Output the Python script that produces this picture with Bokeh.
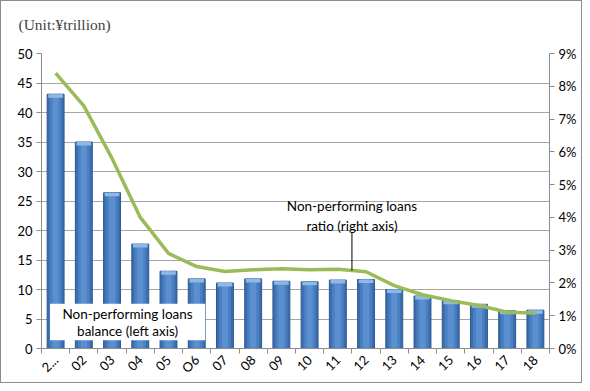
import math
from bokeh.plotting import figure
from bokeh.models import Range1d, LinearAxis, FixedTicker, PrintfTickFormatter, ColumnDataSource
from bokeh.core.properties import value
from bokeh.embed import file_html
from bokeh.resources import INLINE

# ---- data ----
years = ["2...", "02", "03", "04", "05", "O6", "07", "08", "09", "10", "11", "12",
         "13", "14", "15", "16", "17", "18"]
npl_balance = [43.1, 35.0, 26.4, 17.7, 13.1, 11.8, 11.1, 11.8, 11.4, 11.3, 11.6, 11.7,
               10.0, 8.9, 8.1, 7.5, 6.4, 6.5]          # ¥ trillion, left axis
npl_ratio = [8.4, 7.4, 5.8, 4.0, 2.9, 2.5, 2.35, 2.4, 2.43, 2.4, 2.42, 2.34,
             1.92, 1.64, 1.46, 1.31, 1.11, 1.08]         # %, right axis
left_ticks = [0, 5, 10, 15, 20, 25, 30, 35, 40, 45, 50]
right_ticks = [0, 1, 2, 3, 4, 5, 6, 7, 8, 9]
title_text = "(Unit:¥trillion)"
label_balance = ["Non-performing loans", "balance (left axis)"]
label_ratio = ["Non-performing loans", "ratio (right axis)"]

xs = list(range(1, len(years) + 1))
src = ColumnDataSource(dict(
    x=xs, bal=npl_balance, ratio=npl_ratio,
    cap=[v - 0.6 for v in npl_balance],
))

FONT = "Lato"

p = figure(width=582, height=383, output_backend="svg", toolbar_location=None,
           x_range=Range1d(0.5, len(years) + 0.5), y_range=Range1d(0, 50),
           min_border_left=40, min_border_right=34, min_border_top=52, min_border_bottom=33)
p.extra_y_ranges = {"pct": Range1d(0, 9)}
p.outline_line_color = None
p.background_fill_color = "white"
p.border_fill_color = "white"
p.styles = {"border": "1px solid #8c8c8c"}

p.title.text = title_text
p.title.text_font = "Liberation Serif"
p.title.text_font_size = "15.5px"
p.title.text_font_style = "normal"
p.title.align = "left"
p.title.offset = -23
try:
    p.title.padding = dict(left=0, right=0, top=0, bottom=16)
except Exception:
    pass

# axes
p.xaxis.ticker = FixedTicker(ticks=xs, minor_ticks=[x - 0.5 for x in xs] + [len(xs) + 0.5])
p.xaxis.major_label_overrides = {x: y for x, y in zip(xs, years)}
p.xaxis.major_label_orientation = math.pi / 4
p.xaxis.major_tick_out = 0
p.xaxis.major_tick_in = 0
p.xaxis.minor_tick_out = 5
p.xaxis.minor_tick_in = 0
p.xaxis.minor_tick_line_color = "#8c8c8c"

p.yaxis.ticker = FixedTicker(ticks=left_ticks)
p.yaxis.major_tick_out = 5
p.yaxis.major_tick_in = 0
p.yaxis.minor_tick_line_color = None

right = LinearAxis(y_range_name="pct", ticker=FixedTicker(ticks=right_ticks),
                   formatter=PrintfTickFormatter(format="%d%%"))
right.major_tick_out = 5
right.major_tick_in = 0
right.minor_tick_line_color = None
p.add_layout(right, "right")

for ax in [p.xaxis[0], p.yaxis[0], right]:
    ax.axis_line_color = "#8c8c8c"
    ax.major_tick_line_color = "#8c8c8c" if ax is not p.xaxis[0] else None
    ax.major_label_text_font = FONT
    ax.major_label_text_font_size = "13px"
    ax.major_label_text_color = "#000000"
    ax.major_label_standoff = 4

p.xgrid.grid_line_color = None
p.ygrid.ticker = FixedTicker(ticks=left_ticks)
p.ygrid.grid_line_color = "#a6a6a6"
p.ygrid.grid_line_width = 1

# bars (simulated cylinder shading)
p.vbar(x="x", top="bal", width=0.6, source=src, fill_color="#3b6cad", line_color="#2d5a93", line_width=1)
p.vbar(x="x", top="bal", width=0.42, source=src, fill_color="#4a7fc1", line_color=None)
p.vbar(x="x", top="bal", width=0.22, source=src, fill_color="#5a8fd0", line_color=None)
p.vbar(x="x", top="bal", bottom="cap", width=0.52, source=src, fill_color="#8fb8e6", line_color=None)

# ratio line
p.line(x="x", y="ratio", source=src, y_range_name="pct", line_color="#9bbb59", line_width=3.5)

# annotation: balance
p.quad(left=[0.8], right=[6.3], bottom=[1.4], top=[7.6], fill_color="white", line_color=None)
p.text(x=[3.55, 3.55], y=[5.9, 2.9], text=label_balance, text_align="center", text_baseline="middle",
       text_font=value(FONT), text_font_size="13.5px", text_color="black")

# annotation: ratio with leader
p.text(x=[11.5, 11.5], y=[24.1, 20.8], text=label_ratio, text_align="center", text_baseline="middle",
       text_font=value(FONT), text_font_size="13.5px", text_color="black")
p.segment(x0=[11.5], y0=[19.7], x1=[11.5], y1=[13.2], line_color="black", line_width=1)

open("out.html", "w").write(file_html(p, INLINE))
